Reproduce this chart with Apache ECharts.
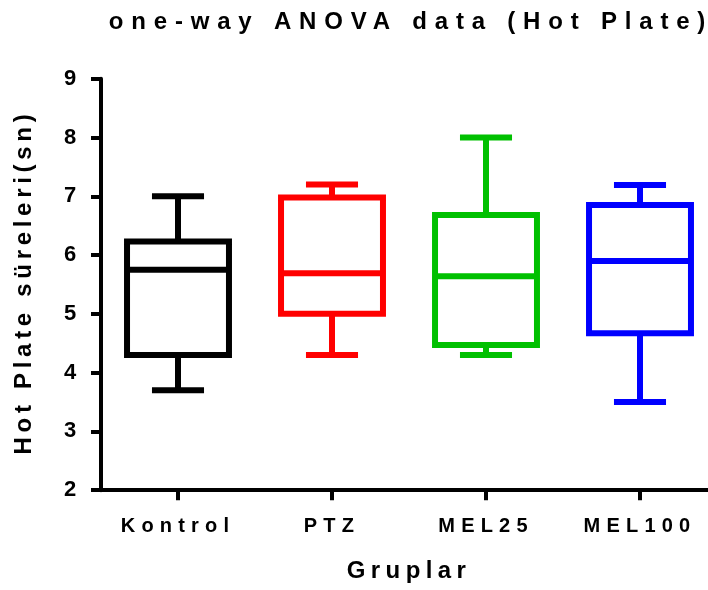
<!DOCTYPE html>
<html>
<head>
<meta charset="utf-8">
<script src="https://cdn.jsdelivr.net/npm/echarts@6/dist/echarts.min.js"></script>
<style>
html,body{margin:0;padding:0;background:#fff;}
#chart{width:708px;height:590px;}
</style>
</head>
<body>
<div id="chart"></div>
<script>
// ---- data ----
const titleText = 'one-way ANOVA data (Hot Plate)';
const xAxisTitle = 'Gruplar';
const yAxisTitle = 'Hot Plate süreleri(sn)';
const categories = ['Kontrol', 'PTZ', 'MEL25', 'MEL100'];
const minValues = [3.7, 4.3, 4.3, 3.5];
const q1Values = [4.3, 5.0, 4.47, 4.67];
const medianValues = [5.75, 5.69, 5.64, 5.9];
const q3Values = [6.23, 6.98, 6.68, 6.85];
const maxValues = [7.0, 7.2, 8.0, 7.19];
const groupColors = ['#000000', '#ff0000', '#00c000', '#0000ff'];
const yMin = 2, yMax = 9, yStep = 1;

// ---- letter spacing per text (canvas letterSpacing) ----
const SPACING = {};
const SHIFT = {};
SPACING[titleText] = 7.8;
SPACING[xAxisTitle] = 5.4;
SPACING[yAxisTitle] = 4.7;
SHIFT[yAxisTitle] = 2.4;
categories.forEach(c => { SPACING[c] = 6.2; });

(function patchCanvas() {
  const proto = CanvasRenderingContext2D.prototype;
  if (!('letterSpacing' in proto)) return;
  const origFill = proto.fillText;
  const origStroke = proto.strokeText;
  const origMeasure = proto.measureText;
  function draw(orig, ctx, t, x, y, w) {
    const sp = SPACING[t];
    if (sp == null) return w === undefined ? orig.call(ctx, t, x, y) : orig.call(ctx, t, x, y, w);
    const prev = ctx.letterSpacing;
    ctx.letterSpacing = sp + 'px';
    const nx = x + (SHIFT[t] || 0);
    const r = w === undefined ? orig.call(ctx, t, nx, y) : orig.call(ctx, t, nx, y, w);
    ctx.letterSpacing = prev;
    return r;
  }
  proto.fillText = function (t, x, y, w) { return draw(origFill, this, t, x, y, w); };
  proto.strokeText = function (t, x, y, w) { return draw(origStroke, this, t, x, y, w); };
  proto.measureText = function (t) {
    const sp = SPACING[t];
    if (sp == null) return origMeasure.call(this, t);
    const prev = this.letterSpacing;
    this.letterSpacing = sp + 'px';
    const m = origMeasure.call(this, t);
    this.letterSpacing = prev;
    return m;
  };
})();

const boxData = categories.map((c, i) => [i, minValues[i], q1Values[i], medianValues[i], q3Values[i], maxValues[i]]);

const FONT = '"Liberation Sans", Arial, sans-serif';
const chart = echarts.init(document.getElementById('chart'), null, { renderer: 'canvas' });

chart.setOption({
  animation: false,
  backgroundColor: '#ffffff',
  title: {
    text: titleText,
    left: 406,
    top: 5,
    textAlign: 'center',
    textStyle: { fontFamily: FONT, fontWeight: 'bold', fontSize: 24, color: '#000' }
  },
  grid: {
    left: 101, top: 78.7, width: 616, height: 411.5,
    containLabel: false, outerBoundsMode: 'none'
  },
  xAxis: {
    type: 'category',
    data: categories,
    name: xAxisTitle,
    nameLocation: 'middle',
    nameGap: 69,
    nameTextStyle: { fontFamily: FONT, fontWeight: 'bold', fontSize: 24, color: '#000' },
    axisLine: { show: true, lineStyle: { color: '#000', width: 4 } },
    axisTick: { show: true, alignWithLabel: true, interval: 0, length: 10, inside: false, lineStyle: { color: '#000', width: 4 } },
    axisLabel: { interval: 0, hideOverlap: false, fontFamily: FONT, fontWeight: 'bold', fontSize: 20, color: '#000', margin: 26 },
    splitLine: { show: false }
  },
  yAxis: {
    type: 'value',
    min: yMin, max: yMax, interval: yStep,
    name: yAxisTitle,
    nameLocation: 'middle',
    nameGap: 65,
    nameRotate: 90,
    nameTextStyle: { fontFamily: FONT, fontWeight: 'bold', fontSize: 24, color: '#000' },
    axisLine: { show: true, lineStyle: { color: '#000', width: 4 } },
    axisTick: { show: true, length: 10, inside: false, lineStyle: { color: '#000', width: 4 } },
    axisLabel: { fontFamily: FONT, fontWeight: 'bold', fontSize: 22, color: '#000', margin: 20 },
    splitLine: { show: false }
  },
  series: [{
    type: 'custom',
    data: boxData,
    encode: { x: 0, y: [1, 2, 3, 4, 5] },
    clip: false,
    renderItem: function (params, api) {
      const i = api.value(0);
      const x = api.coord([i, api.value(3)])[0];
      const band = api.size([1, 0])[0];
      const bw = band * 0.662;
      const cw = band * 0.338;
      const yLo = api.coord([i, api.value(1)])[1];
      const yQ1 = api.coord([i, api.value(2)])[1];
      const yMed = api.coord([i, api.value(3)])[1];
      const yQ3 = api.coord([i, api.value(4)])[1];
      const yHi = api.coord([i, api.value(5)])[1];
      const col = groupColors[i];
      const st = { stroke: col, lineWidth: 6, fill: null, lineCap: 'butt', lineJoin: 'miter' };
      return {
        type: 'group',
        children: [
          { type: 'line', shape: { x1: x, y1: yQ3, x2: x, y2: yHi }, style: st },
          { type: 'line', shape: { x1: x, y1: yQ1, x2: x, y2: yLo }, style: st },
          { type: 'line', shape: { x1: x - cw / 2, y1: yHi, x2: x + cw / 2, y2: yHi }, style: st },
          { type: 'line', shape: { x1: x - cw / 2, y1: yLo, x2: x + cw / 2, y2: yLo }, style: st },
          { type: 'rect', shape: { x: x - bw / 2, y: yQ3, width: bw, height: yQ1 - yQ3 }, style: { stroke: col, lineWidth: 6, fill: '#ffffff', lineJoin: 'miter' } },
          { type: 'line', shape: { x1: x - bw / 2, y1: yMed, x2: x + bw / 2, y2: yMed }, style: st }
        ]
      };
    }
  }]
});
</script>
</body>
</html>
